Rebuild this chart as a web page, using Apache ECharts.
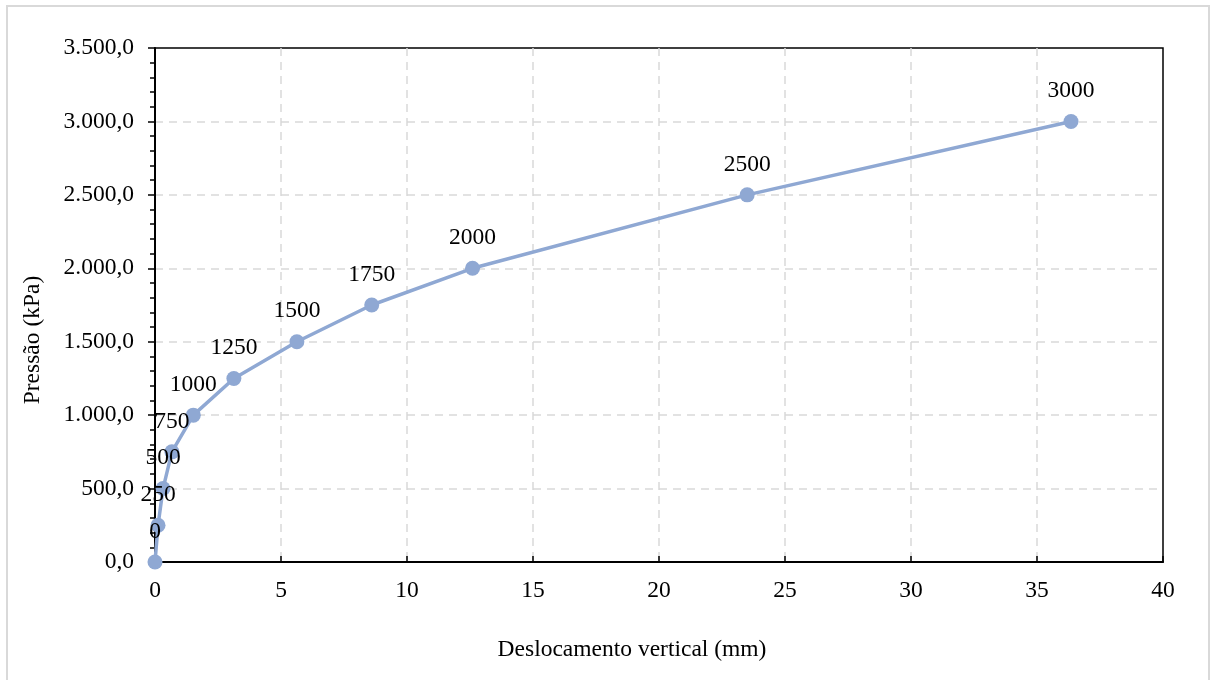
<!DOCTYPE html>
<html>
<head>
<meta charset="utf-8">
<script src="https://cdn.jsdelivr.net/npm/echarts@6/dist/echarts.min.js"></script>
<style>
  html, body { margin: 0; padding: 0; background: #fff; }
  #frame { position: absolute; left: 6px; top: 5px; width: 1204px; height: 690px; border: 2px solid #d9d9d9; box-sizing: border-box; }
  #chart { position: absolute; left: 0; top: 0; width: 1216px; height: 680px; }
</style>
</head>
<body>
<div id="frame"></div>
<div id="chart"></div>
<script>
// deslocamento vertical (mm) x pressão (kPa)
const deslocamento = [0, 0.12, 0.32, 0.67, 1.52, 3.13, 5.63, 8.6, 12.6, 23.5, 36.35];
const pressao = [0, 250, 500, 750, 1000, 1250, 1500, 1750, 2000, 2500, 3000];

const fonte = '"Liberation Serif", "Times New Roman", serif';

function fmtPt(v) {
  // 3500 -> "3.500,0"
  let s = Math.round(v).toString();
  s = s.replace(/\B(?=(\d{3})+(?!\d))/g, '.');
  return s + ',0';
}

let pontos = deslocamento.map((x, i) => [x, pressao[i]]);

let chart = echarts.init(document.getElementById('chart'));
chart.setOption({
  animation: false,
  grid: { left: 155, right: 53, top: 48, bottom: 118, show: true, borderColor: '#000', borderWidth: 1.5, backgroundColor: 'transparent' },
  xAxis: {
    type: 'value',
    min: 0, max: 40, interval: 5,
    name: 'Deslocamento vertical (mm)',
    nameLocation: 'middle',
    nameGap: 76,
    nameTextStyle: { fontFamily: fonte, fontSize: 23.5, color: '#000', padding: [0, 54, 0, 0] },
    axisLine: { show: true, lineStyle: { color: '#000', width: 2 } },
    axisTick: { show: true, inside: true, length: 6, lineStyle: { color: '#000', width: 1.5 } },
    axisLabel: { fontFamily: fonte, fontSize: 23.5, color: '#000', margin: 17 },
    splitLine: { show: true, showMinLine: false, showMaxLine: false, lineStyle: { color: '#d9d9d9', type: [8, 6], width: 1.5 } }
  },
  yAxis: {
    type: 'value',
    min: 0, max: 3500, interval: 500,
    name: 'Pressão (kPa)',
    nameLocation: 'middle',
    nameGap: 110,
    nameTextStyle: { fontFamily: fonte, fontSize: 23.5, color: '#000', padding: [0, 70, 0, 0] },
    axisLine: { show: true, lineStyle: { color: '#000', width: 2 } },
    axisTick: { show: true, length: 7, lineStyle: { color: '#000', width: 1.5 } },
    minorTick: { show: true, splitNumber: 5, length: 5, lineStyle: { color: '#000', width: 1.5 } },
    axisLabel: { fontFamily: fonte, fontSize: 23.5, color: '#000', margin: 21, formatter: fmtPt },
    splitLine: { show: true, showMinLine: false, showMaxLine: false, lineStyle: { color: '#d9d9d9', type: [8, 6], width: 1.5 } }
  },
  series: [{
    type: 'line',
    data: pontos,
    symbol: 'circle',
    symbolSize: 15,
    itemStyle: { color: '#8FA8D3' },
    lineStyle: { color: '#8FA8D3', width: 3.5 },
    label: {
      show: true,
      position: 'top',
      distance: 11,
      fontFamily: fonte,
      fontSize: 23.5,
      color: '#000',
      formatter: p => String(p.value[1])
    },
    labelLayout: { hideOverlap: false }
  }]
});
</script>
</body>
</html>
